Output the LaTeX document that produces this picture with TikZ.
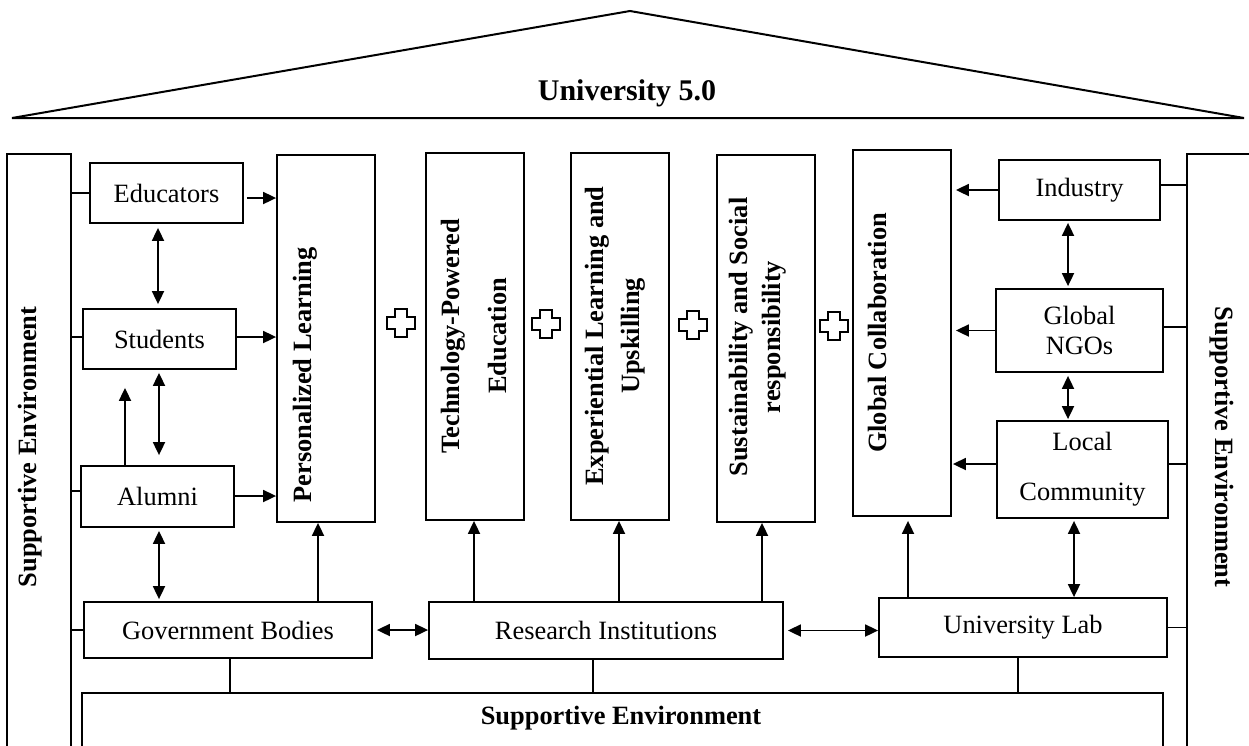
\documentclass[tikz,border=0pt]{standalone}
\usepackage{fontspec}
\setmainfont{Liberation Serif}
\usetikzlibrary{arrows.meta}
\tikzset{
  box/.style={draw, line width=1.8pt, inner sep=0pt, align=center, font=\fontsize{26.4}{30}\selectfont},
  colbox/.style={draw, line width=1.8pt, minimum width=98pt, minimum height=367pt},
  coltext/.style={rotate=90, align=center, font=\fontsize{26.4}{33}\selectfont\bfseries},
  sidetext/.style={font=\fontsize{26.4}{30}\selectfont\bfseries},
  pillar/.style={draw, line width=1.8pt, minimum height=606pt},
  link/.style={line width=1.8pt},
  arr/.style={line width=1.8pt, -{Triangle[length=13pt,width=12pt]}},
  darr/.style={line width=1.8pt, {Triangle[length=13pt,width=12pt]}-{Triangle[length=13pt,width=12pt]}}
}
\begin{document}
\begin{tikzpicture}[x=1pt, y=-1pt]
	\useasboundingbox (0,0) rectangle (1249,745);
	% roof
	\draw[line width=2pt] (12,118) -- (630,11) -- (1244,118) -- cycle;
	\node[font=\fontsize{30}{36}\selectfont\bfseries] (title) at (627,93) {University 5.0};
	% pillars and base
	\node[pillar, minimum width=64pt] (lpillar) at (39,457) {};
	\node[sidetext, rotate=90] (ltext) at (30,447) {Supportive Environment};
	\node[pillar, minimum width=66pt] (rpillar) at (1220,457) {};
	\node[sidetext, rotate=-90] (rtext) at (1222,447) {Supportive Environment};
	\node[draw, line width=1.8pt, minimum width=1081pt, minimum height=67pt] (base) at (622.5,726.5) {};
	\node[sidetext] (basetext) at (621,718) {Supportive Environment};
	% left stakeholders
	\node[box, minimum width=153pt, minimum height=60pt] (edu) at (166.5,193) {Educators};
	\node[box, minimum width=153pt, minimum height=60pt] (stu) at (159.5,339) {Students};
	\node[box, minimum width=153pt, minimum height=61pt] (alu) at (157.5,496.5) {Alumni};
	\node[box, minimum width=288pt, minimum height=56pt] (gov) at (228,630) {Government Bodies};
	% columns
	\node[colbox] (pers) at (326,338.5) {};
	\node[colbox] (tech) at (475,336.5) {};
	\node[colbox] (exp) at (620,336.5) {};
	\node[colbox] (sust) at (766,338.5) {};
	\node[colbox, minimum height=366pt] (glob) at (902,333) {};
	\node[coltext] (perstext) at (305,375) {Personalized Learning};
	\node[coltext] (techtext) at (474,336) {Technology-Powered\\[14pt]Education};
	\node[coltext] (exptext) at (615,336) {Experiential Learning and\\[3pt]Upskilling};
	\node[coltext] (susttext) at (758,337) {Sustainability and Social\\responsibility};
	\node[coltext] (globtext) at (877,333) {Global Collaboration};
	\foreach \px/\py in {401/323, 546/324, 693/325, 834/326}
		\draw[line width=1.2pt] (\px,\py) ++(-6,-14) -- ++(12,0) -- ++(0,8) -- ++(8,0) -- ++(0,12) -- ++(-8,0) -- ++(0,8) -- ++(-12,0) -- ++(0,-8) -- ++(-8,0) -- ++(0,-12) -- ++(8,0) -- cycle;
	% right stakeholders
	\node[box, minimum width=161pt, minimum height=60pt] (ind) at (1079.5,190) {Industry};
	\node[box, minimum width=167pt, minimum height=83pt] (ngo) at (1079.5,330.5) {Global\\NGOs};
	\node[box, minimum width=171pt, minimum height=97pt] (loc) at (1082.5,469.5) {Local\\[20pt]Community};
	\node[box, minimum width=288pt, minimum height=59pt] (lab) at (1023,627.5) {University Lab};
	\node[box, minimum width=354pt, minimum height=57pt] (res) at (606,630.5) {Research Institutions};
	% links to the pillars
	\draw[link] (edu.west) -- (edu.west -| lpillar.east);
	\draw[link] (stu.west |- 0,337) -- (lpillar.east |- 0,337);
	\draw[link] (alu.west |- 0,491) -- (lpillar.east |- 0,491);
	\draw[link] (gov.west) -- (gov.west -| lpillar.east);
	\draw[link] (ind.east |- 0,185) -- (rpillar.west |- 0,185);
	\draw[link] (ngo.east |- 0,327) -- (rpillar.west |- 0,327);
	\draw[link] (loc.east |- 0,464) -- (rpillar.west |- 0,464);
	\draw[link] (lab.east) -- (lab.east -| rpillar.west);
	% links to the base
	\draw[link] (230,0 |- gov.south) -- (230,0 |- base.north);
	\draw[link] (593,0 |- res.south) -- (593,0 |- base.north);
	\draw[link] (1018,0 |- lab.south) -- (1018,0 |- base.north);
	% left arrows
	\draw[arr, shorten <=3pt] (edu.east |- 0,198) -- (pers.west |- 0,198);
	\draw[arr] (stu.east |- 0,337) -- (pers.west |- 0,337);
	\draw[arr] (alu.east |- 0,496) -- (pers.west |- 0,496);
	\draw[darr, shorten <=4pt, shorten >=4pt] (158,0 |- edu.south) -- (158,0 |- stu.north);
	\draw[darr, shorten <=3pt, shorten >=10pt] (159,0 |- stu.south) -- (159,0 |- alu.north);
	\draw[arr, shorten >=18pt] (125,0 |- alu.north) -- (125,0 |- stu.south);
	\draw[darr, shorten <=3pt, shorten >=2pt] (159,0 |- alu.south) -- (159,0 |- gov.north);
	\draw[arr] (318,0 |- gov.north) -- (318,0 |- pers.south);
	% bottom row
	\draw[darr, shorten <=4pt] (gov.east) -- (gov.east -| res.west);
	\draw[darr, shorten <=4pt] (res.east) -- (res.east -| lab.west);
	\draw[arr] (474,0 |- res.north) -- (474,0 |- tech.south);
	\draw[arr] (619,0 |- res.north) -- (619,0 |- exp.south);
	\draw[arr] (762,0 |- res.north) -- (762,0 |- sust.south);
	% right arrows
	\draw[arr, shorten >=4pt] (ind.west) -- (ind.west -| glob.east);
	\draw[arr, shorten >=4pt] (ngo.west) -- (ngo.west -| glob.east);
	\draw[arr, shorten >=1pt] (loc.west |- 0,464) -- (glob.east |- 0,464);
	\draw[arr, shorten >=4pt] (908,0 |- lab.north) -- (908,0 |- glob.south);
	\draw[darr, shorten <=2pt, shorten >=2pt] (1068,0 |- ind.south) -- (1068,0 |- ngo.north);
	\draw[darr, shorten <=3pt, shorten >=1pt] (1068,0 |- ngo.south) -- (1068,0 |- loc.north);
	\draw[darr, shorten <=2pt] (1074,0 |- loc.south) -- (1074,0 |- lab.north);
\end{tikzpicture}
\end{document}
